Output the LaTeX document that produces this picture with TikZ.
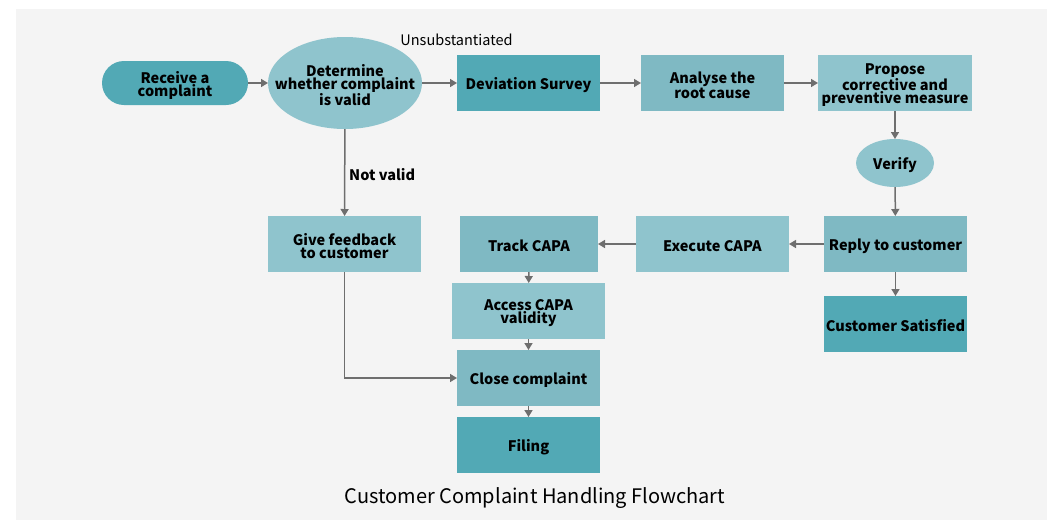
\documentclass[tikz,border=0pt]{standalone}
\usepackage{fontspec}
\setmainfont{Noto Sans CJK SC}
\usetikzlibrary{arrows.meta,shapes.geometric}
\definecolor{bgpanel}{HTML}{F4F4F4}
\definecolor{tealdark}{HTML}{52A9B5}
\definecolor{tealmid}{HTML}{7FB9C3}
\definecolor{teallight}{HTML}{8FC4CD}
\definecolor{linegray}{HTML}{6E6E6E}
\tikzset{
  txtlbl/.style={inner sep=0pt, align=center, text=black, yshift=-2pt,
    font=\fontsize{14.5}{13}\selectfont\bfseries},
  base/.style={inner sep=0pt, outer sep=0pt, label={[txtlbl]center:#1}},
  boxd/.style={base={#1}, rectangle, fill=tealdark, minimum width=143pt, minimum height=56pt},
  boxm/.style={base={#1}, rectangle, fill=tealmid, minimum width=143pt, minimum height=56pt},
  boxl/.style={base={#1}, rectangle, fill=teallight, minimum width=143pt, minimum height=56pt},
  pill/.style={base={#1}, rectangle, rounded corners=22pt, fill=tealdark, minimum width=146pt, minimum height=44pt},
  oval/.style={base={#1}, ellipse, fill=teallight},
  conn/.style={draw=linegray, line width=1.5pt, -{Triangle[length=7pt,width=8pt]}},
  lbl/.style={inner sep=0pt, text=black},
}
\begin{document}
\begin{tikzpicture}[x=1pt,y=-1pt]
\useasboundingbox (0,0) rectangle (1047,520);
\fill[white] (0,0) rectangle (1047,520);
\fill[bgpanel] (16,9) rectangle (1047,520);

\node[pill={Receive a\\complaint}] (rec) at (175,83) {};
\node[oval={Determine\\whether complaint\\is valid}, minimum width=154pt, minimum height=92pt] (det) at (345,83) {};
\node[boxd={Deviation Survey}] (dev) at (528.5,83) {};
\node[boxm={Analyse the\\root cause}] (ana) at (712.5,83) {};
\node[boxl={Propose\\corrective and\\preventive measure}, minimum width=154pt] (pro) at (895,83) {};
\node[oval={Verify}, minimum width=78pt, minimum height=48pt] (ver) at (895,163) {};
\node[boxm={Reply to customer}] (rep) at (895.5,244) {};
\node[boxd={Customer Satisfied}] (sat) at (895.5,324) {};
\node[boxl={Execute CAPA}, minimum width=153pt] (exe) at (712.5,244) {};
\node[boxm={Track CAPA}, minimum width=138pt] (tra) at (529,244) {};
\node[boxl={Access CAPA\\validity}, minimum width=153pt] (acc) at (528.5,311) {};
\node[boxm={Close complaint}] (clo) at (528.5,378) {};
\node[boxd={Filing}] (fil) at (528.5,445) {};
\node[boxl={Give feedback\\to customer}, minimum width=153pt] (fee) at (344.5,244) {};

\node[lbl, font=\fontsize{14.5}{14.5}\selectfont] (uns) at (456.5,40) {Unsubstantiated};
\node[lbl, font=\fontsize{14.5}{14.5}\selectfont\bfseries, anchor=west] (nv) at (349,175) {Not valid};
\node[lbl, font=\fontsize{20}{20}\selectfont] (title) at (535,498) {Customer Complaint Handling Flowchart};

\draw[conn] (rec) -- (det);
\draw[conn] (det) -- (dev);
\draw[conn] (dev) -- (ana);
\draw[conn] (ana) -- (pro);
\draw[conn] (pro) -- (ver);
\draw[conn] (ver) -- (rep);
\draw[conn] (rep) -- (sat);
\draw[conn] (rep) -- (exe);
\draw[conn] (exe) -- (tra);
\draw[conn] (tra) -- (acc);
\draw[conn] (acc) -- (clo);
\draw[conn] (clo) -- (fil);
\draw[conn] (det) -- (fee);
\draw[conn] (fee.south) |- (clo.west);
\end{tikzpicture}
\end{document}
